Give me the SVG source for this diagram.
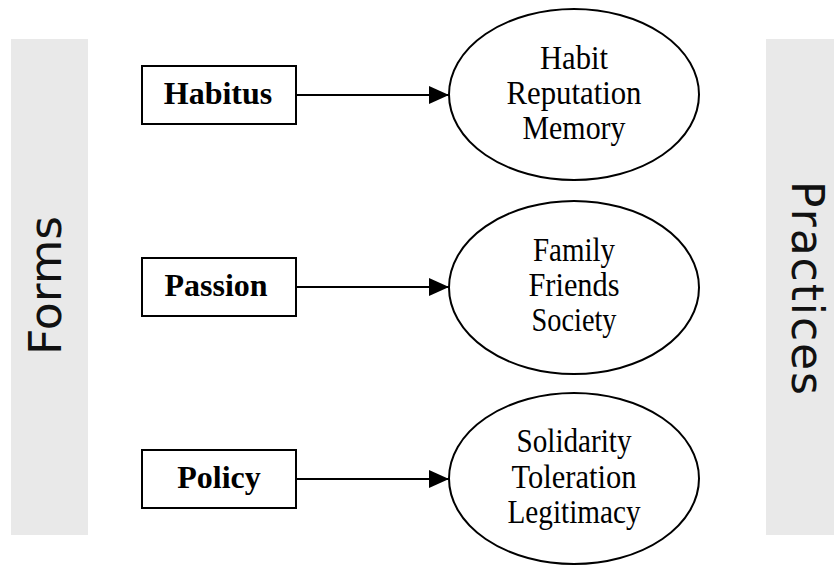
<svg xmlns="http://www.w3.org/2000/svg" width="834" height="565" viewBox="0 0 834 565">
  <style>
    .band { fill: #e9e9e9; }
    .band-label { font-family: "DejaVu Sans", "Liberation Sans", sans-serif; font-size: 44px; fill: #111; text-anchor: middle; }
    .box { fill: #fff; stroke: #000; stroke-width: 2; }
    .box-label { font-family: "Liberation Serif", "Times New Roman", serif; font-weight: bold; font-size: 32px; fill: #000; text-anchor: middle; }
    .oval { fill: #fff; stroke: #000; stroke-width: 2; }
    .oval-label { font-family: "Liberation Serif", "Times New Roman", serif; font-size: 34px; fill: #000; text-anchor: middle; }
    .edge { stroke: #000; stroke-width: 2; fill: none; marker-end: url(#arrow); }
  </style>
  <defs>
    <marker id="arrow" markerWidth="20" markerHeight="18" refX="20" refY="9" orient="auto" markerUnits="userSpaceOnUse">
      <path d="M0,0 L20,9 L0,18 Z" fill="#000"/>
    </marker>
  </defs>

  <rect width="834" height="565" fill="#fff"/>

  <!-- side bands -->
  <g id="forms">
    <rect class="band" x="11" y="39" width="77" height="496"/>
    <text class="band-label" transform="translate(61,285.5) rotate(-90)" textLength="139" lengthAdjust="spacingAndGlyphs">Forms</text>
  </g>
  <g id="practices">
    <rect class="band" x="766" y="39" width="68" height="496"/>
    <text class="band-label" transform="translate(792,288) rotate(90)" textLength="214" lengthAdjust="spacing">Practices</text>
  </g>

  <!-- connectors -->
  <g id="connectors">
    <line class="edge" x1="296" y1="95" x2="449" y2="95"/>
    <line class="edge" x1="296" y1="287" x2="449" y2="287"/>
    <line class="edge" x1="296" y1="479" x2="449" y2="479"/>
  </g>

  <!-- forms -->
  <g id="habitus">
    <rect class="box" x="142" y="66" width="154" height="58"/>
    <text class="box-label" x="218" y="104">Habitus</text>
  </g>
  <g id="passion">
    <rect class="box" x="142" y="258" width="154" height="58"/>
    <text class="box-label" x="216" y="296">Passion</text>
  </g>
  <g id="policy">
    <rect class="box" x="142" y="450" width="154" height="58"/>
    <text class="box-label" x="219" y="488">Policy</text>
  </g>

  <!-- practices (narrow, tall serif lines) -->
  <g id="habit-practices">
    <ellipse class="oval" cx="574" cy="94.5" rx="125" ry="85.5"/>
    <text class="oval-label" x="574" y="69" textLength="68" lengthAdjust="spacingAndGlyphs">Habit</text>
    <text class="oval-label" x="574" y="104" textLength="135" lengthAdjust="spacingAndGlyphs">Reputation</text>
    <text class="oval-label" x="574" y="139" textLength="103" lengthAdjust="spacingAndGlyphs">Memory</text>
  </g>
  <g id="passion-practices">
    <ellipse class="oval" cx="574" cy="287.5" rx="125" ry="86.5"/>
    <text class="oval-label" x="574" y="261" textLength="82" lengthAdjust="spacingAndGlyphs">Family</text>
    <text class="oval-label" x="574" y="296" textLength="91" lengthAdjust="spacingAndGlyphs">Friends</text>
    <text class="oval-label" x="574" y="331" textLength="85" lengthAdjust="spacingAndGlyphs">Society</text>
  </g>
  <g id="policy-practices">
    <ellipse class="oval" cx="574" cy="478.5" rx="125" ry="85.5"/>
    <text class="oval-label" x="574" y="452" textLength="115" lengthAdjust="spacingAndGlyphs">Solidarity</text>
    <text class="oval-label" x="574" y="487.5" textLength="125" lengthAdjust="spacingAndGlyphs">Toleration</text>
    <text class="oval-label" x="574" y="523" textLength="133" lengthAdjust="spacingAndGlyphs">Legitimacy</text>
  </g>
</svg>
